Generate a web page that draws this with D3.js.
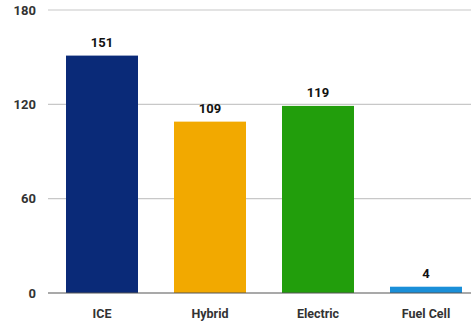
<!DOCTYPE html>
<html>
<head>
<meta charset="utf-8">
<script src="https://cdn.jsdelivr.net/npm/d3@7"></script>
<style>
  html, body { margin: 0; padding: 0; background: #fff; }
  svg { display: block; }
  text { font-family: "Liberation Sans Narrow", "Arial Narrow", "Roboto", sans-serif; }
</style>
</head>
<body>
<svg id="chart" width="471" height="322"></svg>
<script>
const categories = ["ICE", "Hybrid", "Electric", "Fuel Cell"];
const values = [151, 109, 119, 4];
const colors = ["#0a2a78", "#f2a900", "#229e0c", "#1a8fd8"];
const yTicks = [0, 60, 120, 180];

const svg = d3.select("#chart");
const plotLeft = 48, plotRight = 480, plotTop = 10, plotBottom = 293;

const x = d3.scaleBand()
  .domain(categories)
  .range([plotLeft, plotRight])
  .paddingInner(1 / 3)
  .paddingOuter(1 / 6);

const y = d3.scaleLinear().domain([0, 180]).range([plotBottom, plotTop]);

// horizontal gridlines
svg.append("g")
  .selectAll("line")
  .data(yTicks.filter(d => d !== 0))
  .join("line")
  .attr("x1", plotLeft).attr("x2", 471)
  .attr("y1", d => y(d)).attr("y2", d => y(d))
  .attr("stroke", "#c8c8c8")
  .attr("stroke-width", 1.2);

// y tick labels
svg.append("g")
  .selectAll("text")
  .data(yTicks)
  .join("text")
  .attr("x", 36)
  .attr("y", d => y(d))
  .attr("dy", "0.35em")
  .attr("text-anchor", "end")
  .attr("font-size", 13)
  .attr("font-weight", "bold")
  .attr("fill", "#333")
  .text(d => d);

// bars
svg.append("g")
  .selectAll("rect")
  .data(values)
  .join("rect")
  .attr("x", (d, i) => x(categories[i]))
  .attr("width", x.bandwidth())
  .attr("y", d => y(d))
  .attr("height", d => y(0) - y(d))
  .attr("fill", (d, i) => colors[i]);

// baseline
svg.append("line")
  .attr("x1", plotLeft).attr("x2", 471)
  .attr("y1", y(0)).attr("y2", y(0))
  .attr("stroke", "#555")
  .attr("stroke-width", 1.2);

// value labels
svg.append("g")
  .selectAll("text")
  .data(values)
  .join("text")
  .attr("x", (d, i) => x(categories[i]) + x.bandwidth() / 2)
  .attr("y", d => y(d) - 9)
  .attr("text-anchor", "middle")
  .attr("font-size", 13)
  .attr("font-weight", "bold")
  .attr("fill", "#111")
  .text(d => d);

// category labels
svg.append("g")
  .selectAll("text")
  .data(categories)
  .join("text")
  .attr("x", d => x(d) + x.bandwidth() / 2)
  .attr("y", 318)
  .attr("text-anchor", "middle")
  .attr("font-size", 12.5)
  .attr("font-weight", "bold")
  .attr("fill", "#333")
  .text(d => d);
</script>
</body>
</html>
